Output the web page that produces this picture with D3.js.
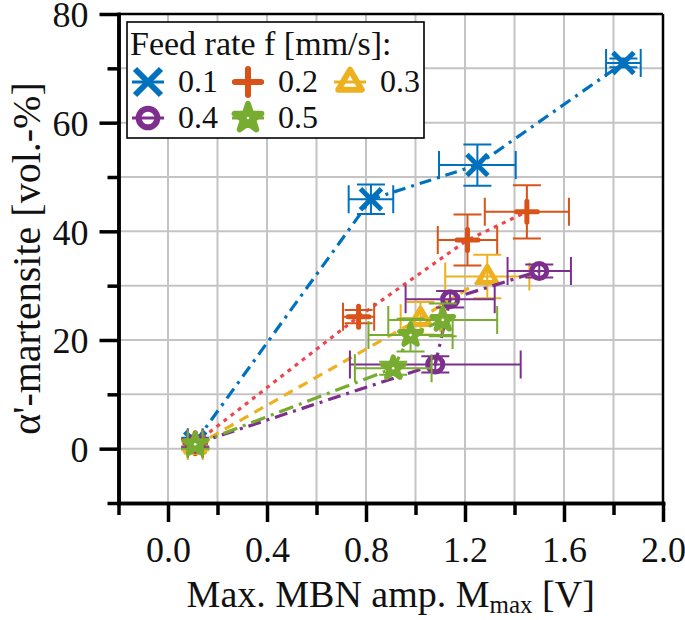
<!DOCTYPE html>
<html>
<head>
<meta charset="utf-8">
<script src="https://cdn.jsdelivr.net/npm/d3@7"></script>
<style>
  html, body { margin: 0; padding: 0; background: #fff; }
  svg { display: block; }
  text { font-family: "Liberation Serif", "Times New Roman", serif; fill: #111; }
</style>
</head>
<body>
<svg id="chart" width="685" height="620"></svg>
<script>
// ---------------- data ----------------
const feedRates = ["0.1", "0.2", "0.3", "0.4", "0.5"];

const xBlue   = [0.11, 0.82, 1.25, 1.84];
const yBlue   = [1.2, 45.9, 52.2, 71.0];
const xeBlue  = [0.03, 0.09, 0.155, 0.07];
const yeBlue  = [0.8, 2.7, 3.8, 0.8];

const xOrange  = [0.11, 0.77, 1.21, 1.45];
const yOrange  = [1.0, 24.3, 38.4, 43.6];
const xeOrange = [0.03, 0.063, 0.12, 0.17];
const yeOrange = [0.8, 1.2, 4.7, 4.9];

const xYellow  = [0.11, 1.02, 1.29];
const yYellow  = [0.5, 24.0, 31.7];
const xeYellow = [0.03, 0.08, 0.17];
const yeYellow = [0.8, 3.0, 4.0];

const xPurple  = [0.11, 1.08, 1.14, 1.50];
const yPurple  = [0.9, 15.5, 27.5, 32.7];
const xePurple = [0.03, 0.345, 0.18, 0.128];
const yePurple = [0.8, 1.5, 1.5, 1.2];

const xGreen  = [0.11, 0.91, 0.98, 1.11];
const yGreen  = [0.8, 14.8, 20.9, 23.7];
const xeGreen = [0.03, 0.155, 0.17, 0.22];
const yeGreen = [0.8, 1.2, 3.0, 3.0];

const xMajorTicks = [0.0, 0.4, 0.8, 1.2, 1.6, 2.0];
const xMinorTicks = [-0.2, 0.2, 0.6, 1.0, 1.4, 1.8];
const yMajorTicks = [0, 20, 40, 60, 80];
const yMinorTicks = [-10, 10, 30, 50, 70];
const xGrid = [0.0, 0.2, 0.4, 0.6, 0.8, 1.0, 1.2, 1.4, 1.6, 1.8];
const yGrid = [0, 10, 20, 30, 40, 50, 60, 70];

const legendTitle = "Feed rate f [mm/s]:";
const yTitle = "α'-martensite [vol.-%]";

// ---------------- styles ----------------
const series = [
  {name: feedRates[0], xs: xBlue, ys: yBlue, xe: xeBlue, ye: yeBlue, color: "#0072BD", lineColor: "#0072BD", dash: "12,6,3,6", marker: "x"},
  {name: feedRates[1], xs: xOrange, ys: yOrange, xe: xeOrange, ye: yeOrange, color: "#D95319", lineColor: "#EF4550", dash: "4,5", marker: "plus"},
  {name: feedRates[2], xs: xYellow, ys: yYellow, xe: xeYellow, ye: yeYellow, color: "#EDB120", lineColor: "#EDB120", dash: "10,7", marker: "tri"},
  {name: feedRates[3], xs: xPurple, ys: yPurple, xe: xePurple, ye: yePurple, color: "#7E2F8E", lineColor: "#7E2F8E", dash: "13,6,3,6", marker: "circle"},
  {name: feedRates[4], xs: xGreen, ys: yGreen, xe: xeGreen, ye: yeGreen, color: "#77AC30", lineColor: "#77AC30", dash: "15,6,3,6", marker: "star"}
];

const svg = d3.select("#chart");
const L = 118.5, R = 663, T = 14, B = 503;
const x = d3.scaleLinear().domain([-0.2, 2.0]).range([L, R]);
const y = d3.scaleLinear().domain([-10, 80]).range([B, T]);

svg.append("rect").attr("width", 685).attr("height", 620).attr("fill", "#fff");

// grid
const grid = svg.append("g").attr("stroke", "#c4c4c4").attr("stroke-width", 2);
grid.selectAll("line.gx").data(xGrid).join("line")
  .attr("x1", d => x(d)).attr("x2", d => x(d)).attr("y1", T).attr("y2", B);
grid.selectAll("line.gy").data(yGrid).join("line")
  .attr("y1", d => y(d)).attr("y2", d => y(d)).attr("x1", L).attr("x2", R);

// frame top / right
svg.append("line").attr("x1", L).attr("x2", R).attr("y1", T).attr("y2", T).attr("stroke", "#000").attr("stroke-width", 2.5);
svg.append("line").attr("x1", R).attr("x2", R).attr("y1", T).attr("y2", B).attr("stroke", "#000").attr("stroke-width", 2.5);

// axes
function styleAxis(g) {
  g.select(".domain").attr("stroke", "#000").attr("stroke-width", 3.5);
  g.selectAll(".tick line").attr("stroke", "#000").attr("stroke-width", 3.5);
  g.selectAll(".tick text").remove();
}
const xMinor = svg.append("g").attr("transform", `translate(0,${B})`)
  .call(d3.axisBottom(x).tickValues(xMinorTicks).tickSize(12).tickSizeOuter(0));
styleAxis(xMinor);
const xMajor = svg.append("g").attr("transform", `translate(0,${B})`)
  .call(d3.axisBottom(x).tickValues(xMajorTicks).tickSize(19).tickSizeOuter(0).tickFormat(d3.format(".1f")));
xMajor.select(".domain").attr("stroke", "#000").attr("stroke-width", 3.5);
xMajor.selectAll(".tick line").attr("stroke", "#000").attr("stroke-width", 3.5);
xMajor.selectAll(".tick text").attr("y", 59).attr("dy", 0).attr("font-size", 36)
  .attr("font-family", "Liberation Serif, serif").attr("fill", "#111");

const yMinor = svg.append("g").attr("transform", `translate(${L},0)`)
  .call(d3.axisLeft(y).tickValues(yMinorTicks).tickSize(11).tickSizeOuter(0));
styleAxis(yMinor);
const yMajor = svg.append("g").attr("transform", `translate(${L},0)`)
  .call(d3.axisLeft(y).tickValues(yMajorTicks).tickSize(19).tickSizeOuter(0).tickFormat(d3.format("d")));
yMajor.select(".domain").attr("stroke", "#000").attr("stroke-width", 3.5);
yMajor.selectAll(".tick line").attr("stroke", "#000").attr("stroke-width", 3.5);
yMajor.selectAll(".tick text").attr("x", -30).attr("dy", "0.36em").attr("font-size", 36)
  .attr("font-family", "Liberation Serif, serif").attr("fill", "#111");
svg.selectAll(".domain").attr("stroke-linecap", "square");

// axis titles
const xt = svg.append("text").attr("x", (L + R) / 2).attr("y", 607).attr("text-anchor", "middle").attr("font-size", 38);
xt.append("tspan").text("Max. MBN amp. M");
xt.append("tspan").attr("font-size", 25).attr("dy", 6).text("max");
xt.append("tspan").attr("dy", -6).text(" [V]");

svg.append("text").attr("transform", `translate(40,${(T + B) / 2}) rotate(-90)`)
  .attr("text-anchor", "middle").attr("font-size", 40).text(yTitle);

// markers
function drawMarker(g, type, cx, cy, s, color, sw) {
  const h = s / 2;
  if (type === "x") {
    g.append("path").attr("d", `M${cx - h},${cy - h}L${cx + h},${cy + h}M${cx - h},${cy + h}L${cx + h},${cy - h}`)
      .attr("stroke", color).attr("stroke-width", sw).attr("fill", "none");
  } else if (type === "plus") {
    g.append("path").attr("d", `M${cx - h},${cy}L${cx + h},${cy}M${cx},${cy - h}L${cx},${cy + h}`)
      .attr("stroke", color).attr("stroke-width", sw).attr("fill", "none").attr("stroke-linecap", "round");
  } else if (type === "tri") {
    const r = h * 0.95;
    g.append("path").attr("d", `M${cx},${cy - r}L${cx + r * 0.95},${cy + r * 0.62}L${cx - r * 0.95},${cy + r * 0.62}Z`)
      .attr("stroke", color).attr("stroke-width", sw).attr("fill", "none").attr("stroke-linejoin", "round");
  } else if (type === "circle") {
    g.append("circle").attr("cx", cx).attr("cy", cy).attr("r", h * 0.72)
      .attr("stroke", color).attr("stroke-width", sw).attr("fill", "none");
  } else if (type === "star") {
    const area = s * s * 0.33;
    g.append("path").attr("d", d3.symbol().type(d3.symbolStar).size(area)())
      .attr("transform", `translate(${cx},${cy})`)
      .attr("stroke", color).attr("stroke-width", sw).attr("fill", color).attr("stroke-linejoin", "round");
    g.append("circle").attr("cx", cx).attr("cy", cy).attr("r", 1.3).attr("fill", "#fff");
  }
}

const cap = 14;
series.forEach(sr => {
  const g = svg.append("g");
  const pts = sr.xs.map((v, i) => ({x: v, y: sr.ys[i], xe: sr.xe[i], ye: sr.ye[i]}));
  // connecting line
  g.append("path").datum(pts)
    .attr("d", d3.line().x(d => x(d.x)).y(d => y(d.y)))
    .attr("fill", "none").attr("stroke", sr.lineColor).attr("stroke-width", 3.2)
    .attr("stroke-dasharray", sr.dash);
  // error bars
  const eb = g.append("g").attr("stroke", sr.color).attr("stroke-width", 2).attr("fill", "none");
  pts.forEach(d => {
    const px = x(d.x), py = y(d.y);
    const x0 = x(d.x - d.xe), x1 = x(d.x + d.xe);
    const y0 = y(d.y - d.ye), y1 = y(d.y + d.ye);
    eb.append("path").attr("d",
      `M${x0},${py}H${x1}M${x0},${py - cap}V${py + cap}M${x1},${py - cap}V${py + cap}` +
      `M${px},${y0}V${y1}M${px - cap},${y0}H${px + cap}M${px - cap},${y1}H${px + cap}`);
  });
  // markers
  pts.forEach(d => drawMarker(g, sr.marker, x(d.x), y(d.y), 21, sr.color, 5));
});

// legend
const lg = svg.append("g");
lg.append("rect").attr("x", 127).attr("y", 22).attr("width", 297).attr("height", 116)
  .attr("fill", "#fff").attr("stroke", "#000").attr("stroke-width", 1.6);
lg.append("text").attr("x", 130).attr("y", 55).attr("font-size", 34).text(legendTitle);
const legPos = [[148, 82], [248, 82], [350, 82], [148, 118], [248, 118]];
series.forEach((sr, i) => {
  const [cx, cy] = legPos[i];
  lg.append("line").attr("x1", cx - 16).attr("x2", cx + 16).attr("y1", cy).attr("y2", cy)
    .attr("stroke", sr.color).attr("stroke-width", 3);
  drawMarker(lg, sr.marker, cx, cy, 26, sr.color, 6);
  lg.append("text").attr("x", cx + 30).attr("y", cy + 10).attr("font-size", 32).text(sr.name);
});
</script>
</body>
</html>
